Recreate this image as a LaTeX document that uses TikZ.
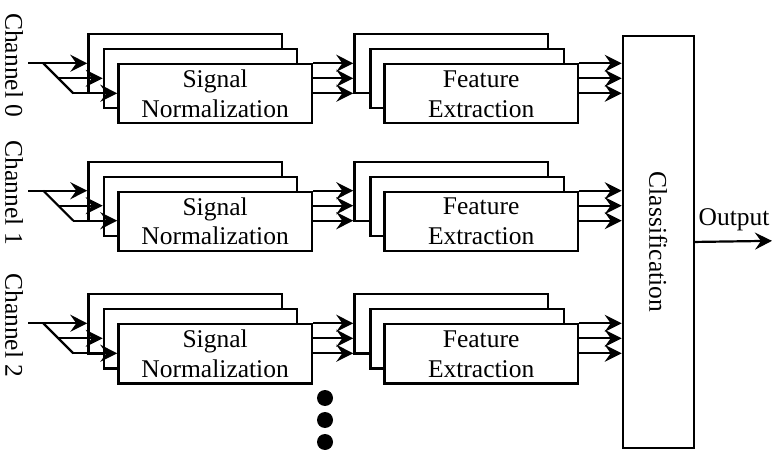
\documentclass[tikz,border=0pt]{standalone}
\usepackage{fontspec}
\setmainfont{Liberation Serif}
\usetikzlibrary{arrows.meta,calc}
\begin{document}
\begin{tikzpicture}[x=1bp,y=-1bp,
  every node/.style={font=\fontsize{25.6}{30}\selectfont},
  box/.style={draw, fill=white, line width=2.2bp, rectangle, inner sep=0pt,
    minimum width=193.5bp, minimum height=59bp, anchor=north west, align=center},
  wire/.style={line width=2.2bp},
  arr/.style={wire, -{Stealth[length=17bp 0,width=17bp 0,inset=6bp 0]}},
  dotmark/.style={circle, fill=black, inner sep=0pt, minimum size=16bp}
]
\useasboundingbox (0,0) rectangle (773,450);

\foreach \rr/\ty in {0/63.3,1/190.7,2/323.3}{
  % Signal normalization stack
  \node[box] (snA\rr) at (87.3,\ty-30) {};
  \node[box] (snB\rr) at (102.7,\ty-15) {};
  \node[box] (snC\rr) at (117.3,\ty) {Signal\\Normalization};
  % Feature extraction stack
  \node[box] (feA\rr) at (353.3,\ty-30) {};
  \node[box] (feB\rr) at (369.3,\ty-15) {};
  \node[box] (feC\rr) at (383.3,\ty) {Feature\\Extraction};
  % channel label
  \node[rotate=-90] (ch\rr) at (14,\ty+2) {Channel \rr};
  % inputs
  \coordinate (in\rr) at (28,\ty);
  \coordinate (dA\rr) at (43.3,\ty);
  \coordinate (dB\rr) at (58.3,\ty+15);
  \coordinate (dC\rr) at (73.3,\ty+30);
  \draw[arr] (in\rr) -- (in\rr -| snA\rr.west);
  \draw[wire] (dA\rr) -- (dC\rr);
  \draw[arr] (dB\rr) -- (dB\rr -| snB\rr.west);
  \draw[arr] (dC\rr) -- (dC\rr -| snC\rr.west);
  % SN -> FE
  \foreach \k in {0,15,30}{
    \coordinate (so\rr\k) at ($(snC\rr.north east)+(0,\k)$);
    \draw[arr] (so\rr\k) -- (so\rr\k -| feA\rr.west);
  }
}

% Classification
\node[draw, fill=white, line width=2.2bp, inner sep=0pt, minimum width=71bp,
  minimum height=411.7bp, anchor=north west,
  label={[rotate=-90]center:Classification}] (cls) at (621.7,35) {};

\foreach \rr in {0,1,2}{
  \foreach \k in {0,15,30}{
    \coordinate (fo\rr\k) at ($(feC\rr.north east)+(0,\k)$);
    \draw[arr] (fo\rr\k) -- (fo\rr\k -| cls.west);
  }
}

% Output
\coordinate (outEnd) at (772,240.85);
\draw[arr] (cls.east) -- (outEnd);
\node (outLbl) at (734,220) {Output};

% dots
\node[dotmark] (dot1) at (325,398) {};
\node[dotmark] (dot2) at (325,420) {};
\node[dotmark] (dot3) at (325,442) {};
\end{tikzpicture}
\end{document}
